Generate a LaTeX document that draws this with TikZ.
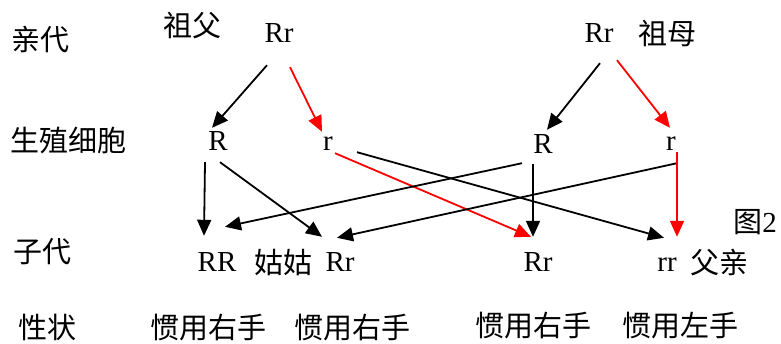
\documentclass[tikz,border=0pt]{standalone}
\usepackage{fontspec}
\setmainfont{Liberation Serif}
\newfontfamily\cjk{Noto Sans CJK SC}
\usetikzlibrary{positioning, arrows.meta}

\begin{document}
\begin{tikzpicture}[
        x=1pt, y=-1pt,
        node distance=18pt,
        gene/.style={inner sep=0pt, anchor=base, text height=19pt, text depth=0pt, font=\fontsize{29}{32}\selectfont},
        word/.style={inner sep=0pt, font=\cjk\fontsize{29}{32}\selectfont},
        arrow/.style={-{Triangle[length=16pt, width=14pt]}, line width=1.8pt},
        redarrow/.style={arrow, red}
    ]
    \useasboundingbox (0,0) rectangle (781,344);
    % 左侧标题
    \node[word] (tparent) at (40,40) {亲代};
    \node[word] (tgamete) at (68,140) {生殖细胞};
    \node[word] (tchild) at (42,252) {子代};
    \node[word] (ttrait) at (47,327) {性状};

    % 亲代
    \node[gene] (gf) at (279,43) {Rr};
    \node[gene] (gm) at (599,43) {Rr};
    \node[word] (grandpa) at (192,26) {祖父};
    \node[word, right=25pt of gm] (grandma) {祖母};

    % 生殖细胞
    \node[gene] (gfR) at (218,151) {R};
    \node[gene] (gfr) at (328,151) {r};
    \node[gene] (gmR) at (543,154) {R};
    \node[gene] (gmr) at (671,151) {r};

    % 子代
    \node[gene] (kRR) at (217,272) {RR};
    \node[word, right=18pt of kRR] (aunt) {姑姑};
    \node[gene] (kRra) at (340,272) {Rr};
    \node[gene] (kRrb) at (538,272) {Rr};
    \node[gene] (krr) at (667,272) {rr};
    \node[word, right=13pt of krr] (father) {父亲};
    \node[inner sep=0pt, font=\fontsize{29}{32}\selectfont] (fig) at (755,222) {{\cjk 图}2};

    % 性状
    \node[word] (traita) at (208,328) {惯用右手};
    \node[word] (traitb) at (352,328) {惯用右手};
    \node[word] (traitc) at (533,326) {惯用右手};
    \node[word] (traitd) at (680,326) {惯用左手};

    % 连接箭头
    \draw[arrow] ([xshift=-12pt,yshift=-22pt]gf.south) -- ([xshift=-6pt,yshift=4pt]gfR.north);
    \draw[redarrow] ([xshift=11pt,yshift=-24pt]gf.south) -- ([xshift=-6pt]gfr.north);
    \draw[arrow] ([xshift=1pt,yshift=-20pt]gm.south) -- ([xshift=4pt,yshift=5pt]gmR.north);
    \draw[redarrow] ([xshift=18pt,yshift=-17pt]gm.south) -- ([xshift=-1pt,yshift=4pt]gmr.north);

    \draw[arrow] ([xshift=-13pt,yshift=-11pt]gfR.south) -- ([xshift=-13pt,yshift=17pt]kRR.north);
    \draw[arrow] ([xshift=2pt,yshift=-11pt]gfR.south) -- ([xshift=-18pt,yshift=16pt]kRra.north);
    \draw[redarrow] ([xshift=7pt,yshift=-2pt]gfr.south) -- ([xshift=-7pt,yshift=16pt]kRrb.north);
    \draw[arrow] ([xshift=29pt,yshift=-1pt]gfr.south) -- ([xshift=-3pt,yshift=15pt]krr.north);
    \draw[arrow] ([xshift=-21pt,yshift=-9pt]gmR.south) -- ([xshift=8pt,yshift=26pt]kRR.north);
    \draw[arrow] ([xshift=-10pt,yshift=-10pt]gmR.south) -- ([xshift=-5pt,yshift=16pt]kRrb.north);
    \draw[arrow] ([xshift=6pt,yshift=-12pt]gmr.south) -- ([xshift=-3pt,yshift=15pt]kRra.north);
    \draw[redarrow] ([xshift=6pt,yshift=-1pt]gmr.south) -- ([xshift=10pt,yshift=16pt]krr.north);
\end{tikzpicture}
\end{document}
